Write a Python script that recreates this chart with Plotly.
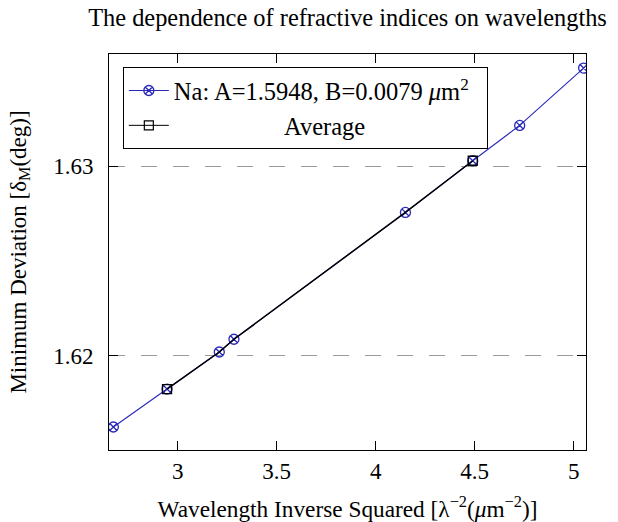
import plotly.graph_objects as go

# Data
na_x = [2.675, 2.946, 3.210, 3.284, 4.150, 4.490, 4.727, 5.050]
na_y = [1.61626, 1.61826, 1.62021, 1.62088, 1.62756, 1.63028, 1.63214, 1.63516]

avg_x = [2.946, 3.210, 3.284, 4.150, 4.490]
avg_y = [1.61826, 1.62021, 1.62088, 1.62756, 1.63028]
avg_mark_x = [2.946, 4.490]
avg_mark_y = [1.61826, 1.63028]

x_ticks = [3, 3.5, 4, 4.5, 5]
x_tick_labels = ["3", "3.5", "4", "4.5", "5"]
y_ticks = [1.62, 1.63]
y_tick_labels = ["1.62", "1.63"]

FONT = "Liberation Serif"
BLUE = "rgb(40,40,185)"

fig = go.Figure()

fig.add_trace(go.Scatter(
    x=na_x, y=na_y, mode="lines+markers",
    name="Na: A=1.5948, B=0.0079 <i>μ</i>m<sup>2</sup>\u2002",
    line=dict(color=BLUE, width=1.1),
    marker=dict(symbol="circle-x-open", size=10, color=BLUE, line=dict(width=1.3)),
))

fig.add_trace(go.Scatter(
    x=avg_x, y=avg_y, mode="lines", showlegend=False,
    line=dict(color="black", width=1.5),
))
fig.add_trace(go.Scatter(
    x=avg_mark_x, y=avg_mark_y, mode="markers", showlegend=False,
    marker=dict(symbol="square-open", size=9, color="black", line=dict(width=1.3)),
))
# legend entry for the Average series
fig.add_trace(go.Scatter(
    x=[None], y=[None], mode="lines+markers",
    name="\u2003\u2003\u2003\u2003\u2002Average",
    line=dict(color="black", width=1),
    marker=dict(symbol="square-open", size=9, color="black", line=dict(width=1.2)),
))

fig.update_layout(
    width=618, height=522,
    margin=dict(l=109, r=32, t=54, b=72),
    paper_bgcolor="white", plot_bgcolor="white",
    font=dict(family=FONT, color="black", size=23),
    title=dict(
        text="The dependence of refractive indices on wavelengths",
        x=0.5, xref="paper", xanchor="center",
        y=1 - 17 / 522, yref="container", yanchor="middle",
        font=dict(family=FONT, size=24.4, color="black"),
    ),
    showlegend=True,
    legend=dict(
        x=0.029, y=0.967, xanchor="left", yanchor="top",
        bgcolor="white", bordercolor="black", borderwidth=1,
        font=dict(family=FONT, size=24.5, color="black"),
        itemwidth=40, tracegroupgap=0,
    ),
)

fig.update_xaxes(
    range=[2.653, 5.062], automargin=False,
    tickmode="array", tickvals=x_ticks, ticktext=x_tick_labels,
    ticks="inside", ticklen=9, tickcolor="black", tickwidth=1,
    showline=True, linecolor="black", linewidth=1, mirror="ticks",
    showgrid=False, zeroline=False,
    tickfont=dict(family=FONT, size=23),
    title=dict(text="Wavelength Inverse Squared [λ<sup>−2</sup>(<i>μ</i>m<sup>−2</sup>)]",
               font=dict(family=FONT, size=23.3), standoff=20),
)
fig.update_yaxes(
    range=[1.61505, 1.6359], automargin=False,
    tickmode="array", tickvals=y_ticks, ticktext=y_tick_labels,
    ticks="inside", ticklen=9, tickcolor="black", tickwidth=1,
    ticklabelstandoff=10,
    showline=True, linecolor="black", linewidth=1, mirror="ticks",
    showgrid=True, gridcolor="#9a9a9a", gridwidth=1, griddash="16px,16px",
    zeroline=False,
    tickfont=dict(family=FONT, size=23),
    title=dict(text="Minimum Deviation [δ<sub>M</sub>(deg)]",
               font=dict(family=FONT, size=23), standoff=20),
)

fig.write_html("out.html")
